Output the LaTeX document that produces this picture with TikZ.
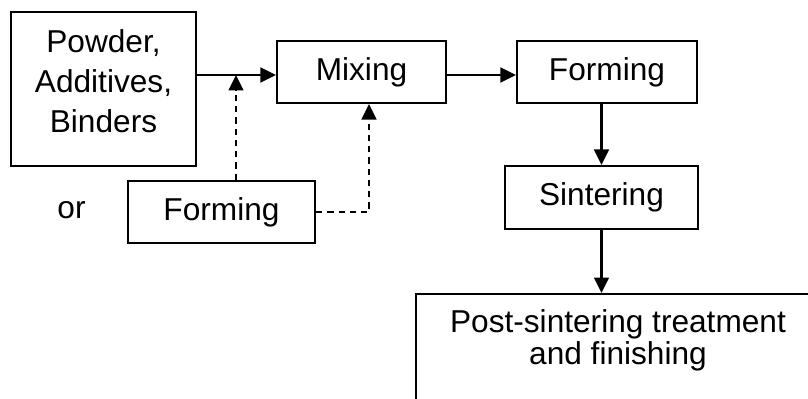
\documentclass[tikz,border=0pt]{standalone}
\usepackage{fontspec}
\setmainfont{Liberation Sans}
\usetikzlibrary{arrows.meta}
\begin{document}
\begin{tikzpicture}[x=0.25mm,y=-0.25mm,
  box/.style={draw,line width=1.5pt,inner sep=0pt,minimum height=15.5mm,align=center,
    font=\fontsize{22.5}{22.5}\selectfont},
  arrow/.style={line width=1.5pt,-{Triangle[length=11pt,width=10.5pt]}},
  optional/.style={arrow,dash pattern=on 4.5pt off 3.5pt}
]
\useasboundingbox (0,0) rectangle (808,399);
\clip (0,0) rectangle (808,399);
\node[box,minimum width=46.25mm,minimum height=38.5mm,text depth=11.8pt] (powder) at (103.5,89)
  {Powder,\\[6pt]Additives,\\[6pt]Binders};
\node[box,minimum width=42.25mm] (mixing) at (361.5,72) {Mixing};
\node[box,minimum width=45mm] (forming) at (607,72) {Forming};
\node[box,minimum width=46.75mm] (formalt) at (221.5,212) {Forming};
\node[font=\fontsize{22.5}{22.5}\selectfont] (or) at (71.5,210) {or};
\node[box,minimum width=48.25mm,minimum height=15.75mm] (sinter) at (601.5,197.5) {Sintering};
\node[box,anchor=north,minimum width=101mm,inner sep=11pt,text depth=60pt] (post) at (618,293)
  {Post-sintering treatment\\and finishing};
% main line
\coordinate (join) at (236,75);
\draw[arrow] (join -| powder.east) -- (join -| mixing.west);
\draw[arrow] (join -| mixing.east) -- (join -| forming.west);
\draw[arrow] (forming.south -| sinter.north) -- (sinter.north);
\draw[arrow] (sinter.south) -- (post.north -| sinter.south);
% alternative route
\coordinate (bend) at (369,212);
\draw[optional] (formalt.north -| join) -- (join);
\draw[optional] (formalt.east) -- (bend) -- (bend |- mixing.south);
\end{tikzpicture}
\end{document}
